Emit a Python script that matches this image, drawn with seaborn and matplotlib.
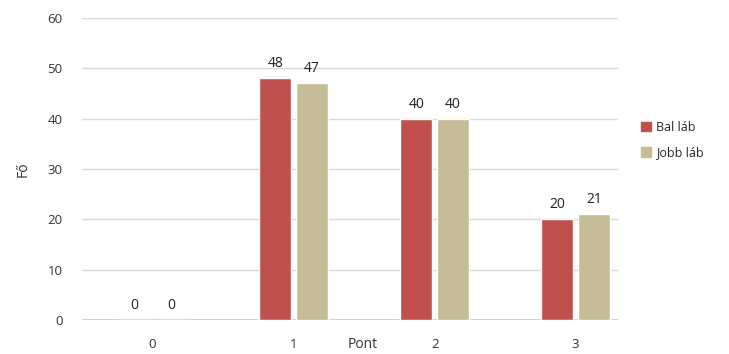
import pandas as pd
import matplotlib.pyplot as plt
import seaborn as sns

pont = ["0", "1", "2", "3"]
bal_lab = [0, 48, 40, 20]
jobb_lab = [0, 47, 40, 21]
series = ["Bal láb", "Jobb láb"]
colors = ["#C0504D", "#C4BD97"]

df = pd.DataFrame({
    "Pont": pont * 2,
    "Fő": bal_lab + jobb_lab,
    "Láb": [series[0]] * len(pont) + [series[1]] * len(pont),
})

sns.set_theme(style="white")
plt.rcParams["font.family"] = ["Open Sans", "DejaVu Sans"]

fig = plt.figure(figsize=(7.29, 3.54), dpi=100)
ax = fig.add_axes([82 / 729, 1 - 320 / 354, (618 - 82) / 729, (320 - 18) / 354])

sns.barplot(data=df, x="Pont", y="Fő", hue="Láb", palette=colors, saturation=1,
            width=0.52, gap=0.12, ax=ax, legend=False)

for c in ax.containers:
    ax.bar_label(c, padding=5, fontsize=10, color="#222222")

ax.set_ylim(0, 60)
ax.set_yticks(range(0, 61, 10))
ax.set_xlim(-0.5, 3.3)
ax.yaxis.grid(True, color="#d9d9d9", linewidth=1)
ax.axhline(0, color="#c8c8c8", linewidth=1.2, zorder=0)
ax.set_axisbelow(True)
for s in ax.spines.values():
    s.set_visible(False)
ax.tick_params(axis="both", length=0, labelsize=9.5, colors="#333333")
ax.tick_params(axis="y", pad=14)
ax.tick_params(axis="x", pad=13)
ax.set_ylabel("Fő", fontsize=10, color="#333333", labelpad=12)
ax.set_xlabel("")
# axis title sits on the same row as the category labels
ax.text(0.524, -0.055, "Pont", transform=ax.transAxes, ha="center", va="top",
        fontsize=10, color="#333333")

handles = [plt.Rectangle((0, 0), 1, 1, color=c) for c in colors]
fig.legend(handles, series, loc="center left", bbox_to_anchor=(630 / 729, 1 - 140 / 354),
           frameon=False, fontsize=9, handlelength=0.8, handleheight=0.8,
           handletextpad=0.4, labelspacing=1.0)

fig.savefig("out.png", dpi=100, facecolor="white")
